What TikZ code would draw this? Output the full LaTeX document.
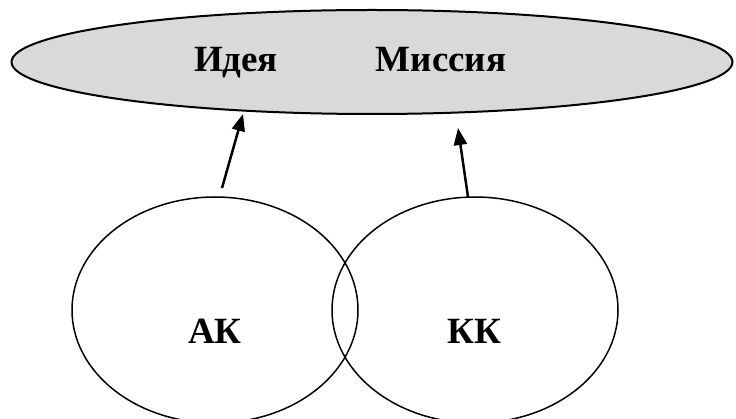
\documentclass[tikz,border=0pt]{standalone}
\usepackage{fontspec}
\setmainfont{Liberation Serif}
\usetikzlibrary{shapes.geometric, arrows.meta}

\tikzset{
  oval/.style={draw, ellipse, inner sep=0pt},
  word/.style={anchor=base, font=\bfseries\fontsize{37}{42}\selectfont},
  up/.style={line width=2.5pt, -{Triangle[length=17pt, width=13pt]}}
}

\begin{document}
\begin{tikzpicture}[x=1pt, y=-1pt, line width=1.5pt, black]
  \useasboundingbox (0,0) rectangle (736,419);

  % Draw the grey oval on top
  \node[oval, fill=gray!30, line width=2pt, minimum width=721pt, minimum height=104pt] (goal) at (372,62) {};
  \node[word] (idea) at (236,72) {Идея};
  \node[word] (mission) at (441,72) {Миссия};

  % Draw the two circles below
  \node[oval, minimum width=286pt, minimum height=226pt] (ak) at (215,310) {};
  \node[oval, minimum width=286pt, minimum height=226pt] (kk) at (475,310) {};
  \node[word] (akname) at (215,344) {АК};
  \node[word] (kkname) at (474,344) {КК};

  % Arrows from the circles up to the oval
  \coordinate (akout) at (222,188);
  \coordinate (akin) at (243,114);
  \coordinate (kkout) at (468,197);
  \coordinate (kkin) at (458,128);
  \draw[up] (akout) -- (akin);
  \draw[up] (kkout) -- (kkin);
\end{tikzpicture}
\end{document}
